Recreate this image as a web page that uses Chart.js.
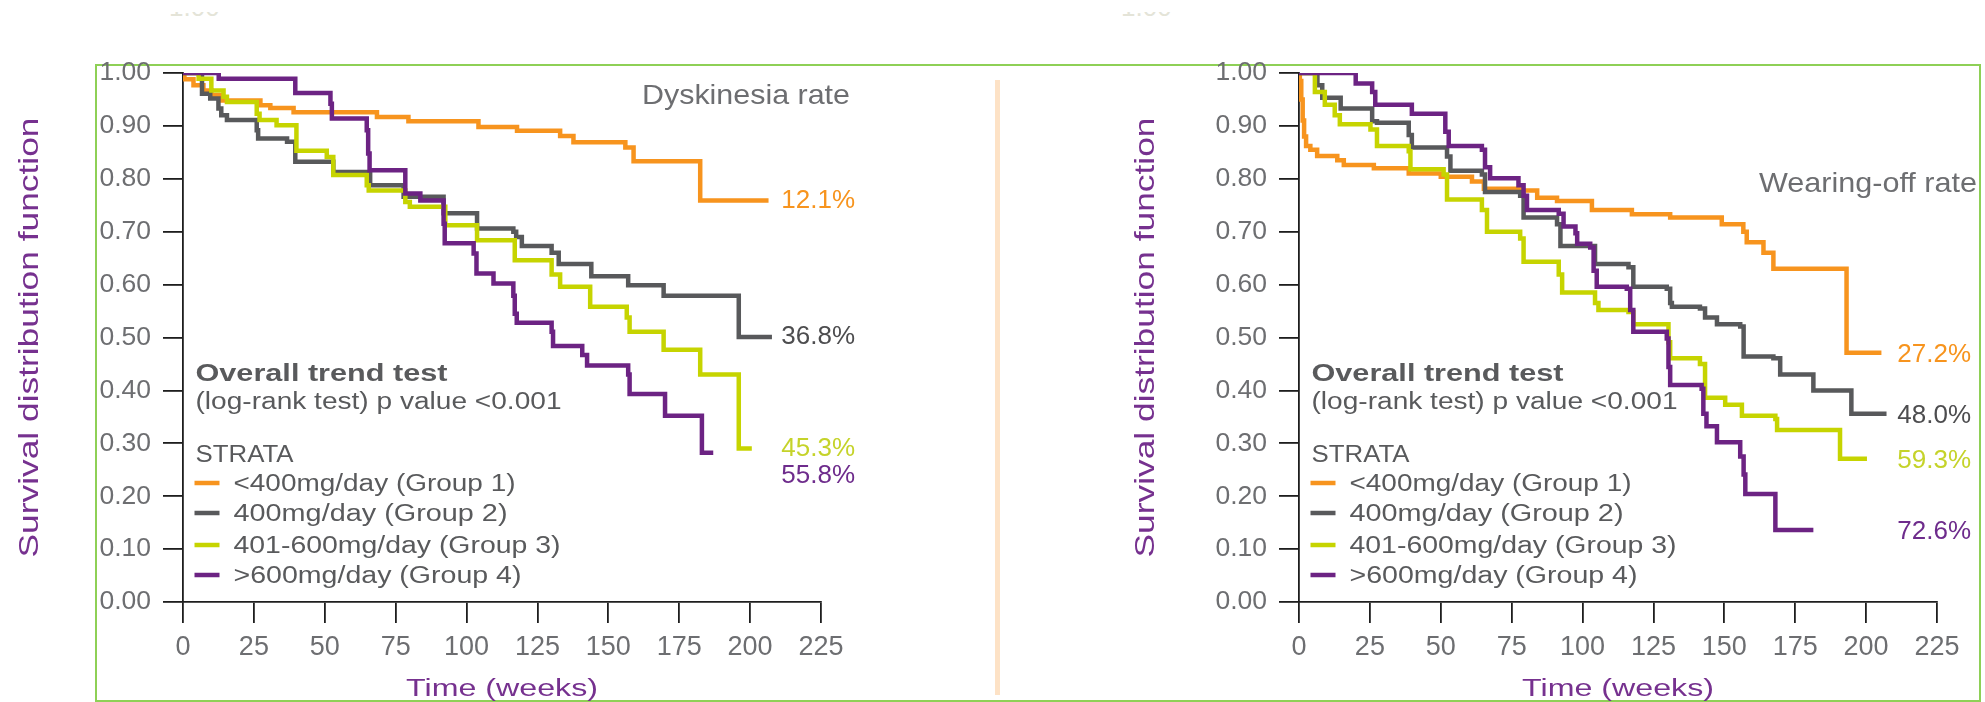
<!DOCTYPE html>
<html>
<head>
<meta charset="utf-8">
<script src="https://cdn.jsdelivr.net/npm/chart.js@4.4.1/dist/chart.umd.min.js"></script>
<style>
  html, body { margin: 0; padding: 0; background: #fff; }
  body { width: 1985px; height: 702px; position: relative; overflow: hidden; font-family: 'Liberation Sans', Arial, sans-serif; }
  #frame { position: absolute; left: 95px; top: 64px; width: 1882px; height: 634px; border: 2px solid #8ed056; }
  #divider { position: absolute; left: 995px; top: 80px; width: 5px; height: 615px; background: #fde2c6; }
  .ghost { position: absolute; top: 12px; height: 8px; overflow: hidden; color: #e4e4d8; font-size: 26px; line-height: 26px; }
  .ghost span { display: block; margin-top: -18px; }
  canvas { position: absolute; top: 0; }
  #dys { left: 0; }
  #wear { left: 1116px; }
</style>
</head>
<body>
<div id="frame"></div>
<div id="divider"></div>
<div class="ghost" style="left:169px"><span>1.00</span></div>
<div class="ghost" style="left:1121px"><span>1.00</span></div>
<canvas id="dys" width="995" height="702"></canvas>
<canvas id="wear" width="869" height="702"></canvas>
<script>
// --- données (semaines, fonction de survie) ---
const xTicks = [0, 25, 50, 75, 100, 125, 150, 175, 200, 225];
const yTicks = [0, 0.1, 0.2, 0.3, 0.4, 0.5, 0.6, 0.7, 0.8, 0.9, 1.0];

const strataLabels = ['<400mg/day (Group 1)', '400mg/day (Group 2)', '401-600mg/day (Group 3)', '>600mg/day (Group 4)'];

// Dyskinesia
const dysWeeksG1 = [0, 0.5, 3.7, 7.2, 10, 13, 27.3, 30.8, 39, 68.4, 79.5, 104.2, 117.8, 133, 137.7, 156, 158.9, 182.4, 206.5];
const dysSurvG1  = [1, 0.988, 0.977, 0.967, 0.958, 0.948, 0.939, 0.934, 0.926, 0.917, 0.909, 0.898, 0.891, 0.881, 0.869, 0.859, 0.833, 0.759, 0.759];
const dysWeeksG2 = [0, 6.7, 9.6, 12.5, 13.5, 15.5, 26, 26.5, 36.7, 39.6, 53, 66, 77.8, 91.9, 103.7, 116.5, 117.5, 119.5, 130, 132.5, 144, 157, 169.5, 196, 207.7];
const dysSurvG2  = [1, 0.961, 0.952, 0.933, 0.92, 0.911, 0.892, 0.876, 0.870, 0.832, 0.813, 0.788, 0.766, 0.735, 0.706, 0.700, 0.690, 0.673, 0.660, 0.639, 0.616, 0.599, 0.579, 0.501, 0.501];
const dysWeeksG3 = [0, 5.5, 10, 14.3, 15.5, 26, 27, 33, 40, 50.7, 53, 64.8, 65.5, 78.4, 80, 92.5, 103.7, 117, 130, 133, 143.6, 156.5, 157.5, 169.5, 182.4, 196, 200.6];
const dysSurvG3  = [1, 0.989, 0.967, 0.955, 0.945, 0.923, 0.911, 0.901, 0.853, 0.841, 0.807, 0.788, 0.778, 0.756, 0.747, 0.712, 0.684, 0.646, 0.619, 0.596, 0.558, 0.538, 0.511, 0.477, 0.430, 0.290, 0.290];
const dysWeeksG4 = [0, 12.6, 39.6, 52, 52.5, 64.8, 65.3, 65.8, 78.4, 83.7, 91.9, 92.3, 102.5, 103.5, 109.5, 116.5, 117, 117.7, 130, 130.5, 140.8, 142.5, 157, 157.5, 170, 183, 187];
const dysSurvG4  = [1, 0.989, 0.962, 0.942, 0.914, 0.892, 0.848, 0.816, 0.772, 0.759, 0.715, 0.678, 0.659, 0.621, 0.602, 0.579, 0.545, 0.528, 0.511, 0.484, 0.467, 0.447, 0.430, 0.393, 0.352, 0.282, 0.282];
const dysEndLabels = ['12.1%', '36.8%', '45.3%', '55.8%'];

// Wearing-off
const wearWeeksG1 = [0, 0.3, 0.8, 1.3, 1.8, 2.5, 4, 6.4, 13.5, 15.8, 26.4, 38.7, 50, 61, 65.2, 78, 84, 91, 103.3, 117.4, 130.9, 149.1, 156.7, 157.9, 163.8, 167.3, 193.1, 205.4];
const wearSurvG1  = [1, 0.985, 0.95, 0.91, 0.88, 0.862, 0.855, 0.843, 0.835, 0.826, 0.820, 0.810, 0.804, 0.795, 0.781, 0.778, 0.764, 0.758, 0.741, 0.733, 0.727, 0.714, 0.700, 0.680, 0.660, 0.630, 0.471, 0.471];
const wearWeeksG2 = [0, 6.5, 8.2, 14.7, 25.8, 27.5, 38.7, 39.8, 52.2, 53.4, 64.5, 65.6, 78, 79.2, 91, 92.2, 104.4, 116.2, 117.9, 129.7, 130.9, 131.5, 141.4, 143.2, 147.4, 155.6, 156.8, 167.3, 169.7, 181.4, 194.8, 207.2];
const wearSurvG2  = [1, 0.977, 0.953, 0.933, 0.909, 0.906, 0.883, 0.859, 0.842, 0.815, 0.808, 0.775, 0.768, 0.727, 0.714, 0.673, 0.639, 0.633, 0.596, 0.592, 0.565, 0.558, 0.555, 0.538, 0.525, 0.521, 0.464, 0.461, 0.430, 0.400, 0.356, 0.356];
const wearWeeksG3 = [0, 5.6, 9.1, 12.6, 14.4, 25.2, 27.5, 38.7, 39.3, 51, 52.2, 64.5, 66.3, 78, 79.2, 91.6, 92.8, 104.4, 105.6, 116.2, 117.9, 130.3, 130.9, 141.4, 143.2, 150.3, 156.2, 168, 168.6, 190.8, 200.3];
const wearSurvG3  = [1, 0.964, 0.940, 0.920, 0.903, 0.893, 0.862, 0.852, 0.818, 0.808, 0.761, 0.741, 0.700, 0.687, 0.643, 0.619, 0.585, 0.565, 0.552, 0.548, 0.525, 0.491, 0.461, 0.450, 0.386, 0.373, 0.352, 0.346, 0.325, 0.271, 0.271];
const wearWeeksG4 = [0, 20, 25.8, 26.9, 39.8, 51.6, 52.8, 64.5, 65.6, 67.4, 77.4, 79.2, 80.4, 91.6, 93.3, 97.5, 98.1, 102.7, 103.9, 105, 115.6, 116.8, 117.9, 129.7, 130.3, 130.9, 142, 142.6, 143.7, 147.4, 155.6, 156.8, 157.4, 168, 181.4];
const wearSurvG4  = [1, 0.98, 0.964, 0.940, 0.923, 0.889, 0.862, 0.855, 0.822, 0.801, 0.788, 0.768, 0.741, 0.734, 0.710, 0.697, 0.677, 0.670, 0.626, 0.596, 0.592, 0.552, 0.511, 0.498, 0.444, 0.410, 0.403, 0.356, 0.332, 0.302, 0.275, 0.241, 0.204, 0.136, 0.136];
const wearEndLabels = ['27.2%', '48.0%', '59.3%', '72.6%'];

// --- styles ---
const FONT = "'Liberation Sans', Arial, sans-serif";
const colors = ['#f7941e', '#58595b', '#c6d400', '#6c2383'];
const labelColors = ['#f7941e', '#4d4d4f', '#c5d32a', '#6e2c8c'];
const TICK_COLOR = '#6d6e71';
const AXIS_COLOR = '#1e1e1e';
const TITLE_PURPLE = '#76318f';
const TEXT_GRAY = '#595a5c';
const LABEL_WEEK = 211;

function drawText(ctx, str, x, y, font, color, width, align) {
    ctx.save();
    ctx.font = font;
    ctx.fillStyle = color;
    ctx.textBaseline = 'alphabetic';
    ctx.textAlign = 'left';
    const w = ctx.measureText(str).width;
    const sx = width ? width / w : 1;
    ctx.translate(x, y);
    ctx.scale(sx, 1);
    const dx = align === 'center' ? -w / 2 : 0;
    ctx.fillText(str, dx, 0);
    ctx.restore();
}

const annotate = {
    id: 'annotate',
    afterDraw(chart, args, o) {
        const ctx = chart.ctx;
        const a = chart.chartArea;
        const xs = chart.scales.x, ys = chart.scales.y;

        // titre du panneau
        drawText(ctx, o.title, a.left + o.titleDx, a.top + o.titleDy, '28px ' + FONT, TICK_COLOR, o.titleWidth);

        // légende
        const lx = a.left + 12.5;
        drawText(ctx, 'Overall trend test', lx, a.top + 307.5, 'bold 23.5px ' + FONT, TEXT_GRAY, 252);
        drawText(ctx, '(log-rank test) p value <0.001', lx, a.top + 336, '23.5px ' + FONT, TEXT_GRAY, 366);
        drawText(ctx, 'STRATA', lx, a.top + 389, '24.5px ' + FONT, TEXT_GRAY, 98);
        const rows = [410, 440, 472, 502];
        const widths = [282, 274, 327, 288];
        strataLabels.forEach((lab, i) => {
            const yy = a.top + rows[i];
            ctx.save();
            ctx.strokeStyle = colors[i];
            ctx.lineWidth = 4.5;
            ctx.beginPath();
            ctx.moveTo(a.left + 11.5, yy);
            ctx.lineTo(a.left + 36.5, yy);
            ctx.stroke();
            ctx.restore();
            drawText(ctx, lab, a.left + 50.5, yy + 8, '23px ' + FONT, TEXT_GRAY, widths[i]);
        });

        // pourcentages en bout de courbe
        chart.data.datasets.forEach((ds, i) => {
            const last = ds.data[ds.data.length - 1];
            const yy = ys.getPixelForValue(last.y) + o.nudge[i];
            ctx.save();
            ctx.font = '26px ' + FONT;
            ctx.fillStyle = labelColors[ds.group];
            ctx.textBaseline = 'middle';
            ctx.fillText(o.endLabels[ds.group], xs.getPixelForValue(LABEL_WEEK), yy);
            ctx.restore();
        });

        // titres des axes
        ctx.save();
        ctx.font = '28px ' + FONT;
        const tw = ctx.measureText('Survival distribution function').width;
        ctx.translate(a.left - 145, (a.top + a.bottom) / 2);
        ctx.rotate(-Math.PI / 2);
        ctx.scale(440 / tw, 1);
        ctx.fillStyle = TITLE_PURPLE;
        ctx.textAlign = 'center';
        ctx.textBaseline = 'alphabetic';
        ctx.fillText('Survival distribution function', 0, 0);
        ctx.restore();

        drawText(ctx, 'Time (weeks)', (a.left + a.right) / 2, a.bottom + 94, '23px ' + FONT, TITLE_PURPLE, 192, 'center');
    }
};

function makeChart(id, weeks, surv, extra, padRight) {
    const datasets = weeks.map((w, i) => ({
        group: i,
        data: w.map((t, k) => ({ x: t, y: surv[i][k] })),
        borderColor: colors[i],
        borderWidth: 4.5,
        stepped: 'before',
        pointRadius: 0,
        fill: false,
        borderCapStyle: 'butt',
        borderJoinStyle: 'miter',
        order: 4 - i
    }));
    return new Chart(document.getElementById(id), {
        type: 'line',
        data: { datasets },
        plugins: [annotate],
        options: {
            responsive: false,
            animation: false,
            layout: { padding: { left: 0, right: padRight, top: 73, bottom: 0 } },
            plugins: {
                legend: { display: false },
                tooltip: { enabled: false },
                annotate: extra
            },
            scales: {
                x: {
                    type: 'linear',
                    min: xTicks[0],
                    max: xTicks[xTicks.length - 1],
                    afterBuildTicks: s => { s.ticks = xTicks.map(v => ({ value: v })); },
                    ticks: { font: { family: FONT, size: 27 }, color: TICK_COLOR, padding: 8, maxRotation: 0, autoSkip: false },
                    grid: { drawOnChartArea: false, drawTicks: true, tickLength: 21, color: AXIS_COLOR, lineWidth: 1.8 },
                    border: { display: true, color: AXIS_COLOR, width: 1.8 },
                    afterFit: s => { s.height = 100; }
                },
                y: {
                    type: 'linear',
                    min: 0,
                    max: 1,
                    afterBuildTicks: s => { s.ticks = yTicks.map(v => ({ value: v })); },
                    ticks: { font: { family: FONT, size: 26.5 }, color: TICK_COLOR, padding: 12, autoSkip: false, callback: v => v.toFixed(2) },
                    grid: { drawOnChartArea: false, drawTicks: true, tickLength: 20, color: AXIS_COLOR, lineWidth: 1.8 },
                    border: { display: true, color: AXIS_COLOR, width: 1.8 },
                    afterFit: s => { s.width = 183; }
                }
            }
        }
    });
}

makeChart('dys',
    [dysWeeksG1, dysWeeksG2, dysWeeksG3, dysWeeksG4],
    [dysSurvG1, dysSurvG2, dysSurvG3, dysSurvG4],
    { title: 'Dyskinesia rate', titleDx: 459, titleDy: 30.5, titleWidth: 208, endLabels: dysEndLabels, nudge: [0, 0, 0, 23] },
    174);

makeChart('wear',
    [wearWeeksG1, wearWeeksG2, wearWeeksG3, wearWeeksG4],
    [wearSurvG1, wearSurvG2, wearSurvG3, wearSurvG4],
    { title: 'Wearing-off rate', titleDx: 460, titleDy: 119, titleWidth: 218, endLabels: wearEndLabels, nudge: [2, 2, 2, 2] },
    48);
</script>
</body>
</html>
